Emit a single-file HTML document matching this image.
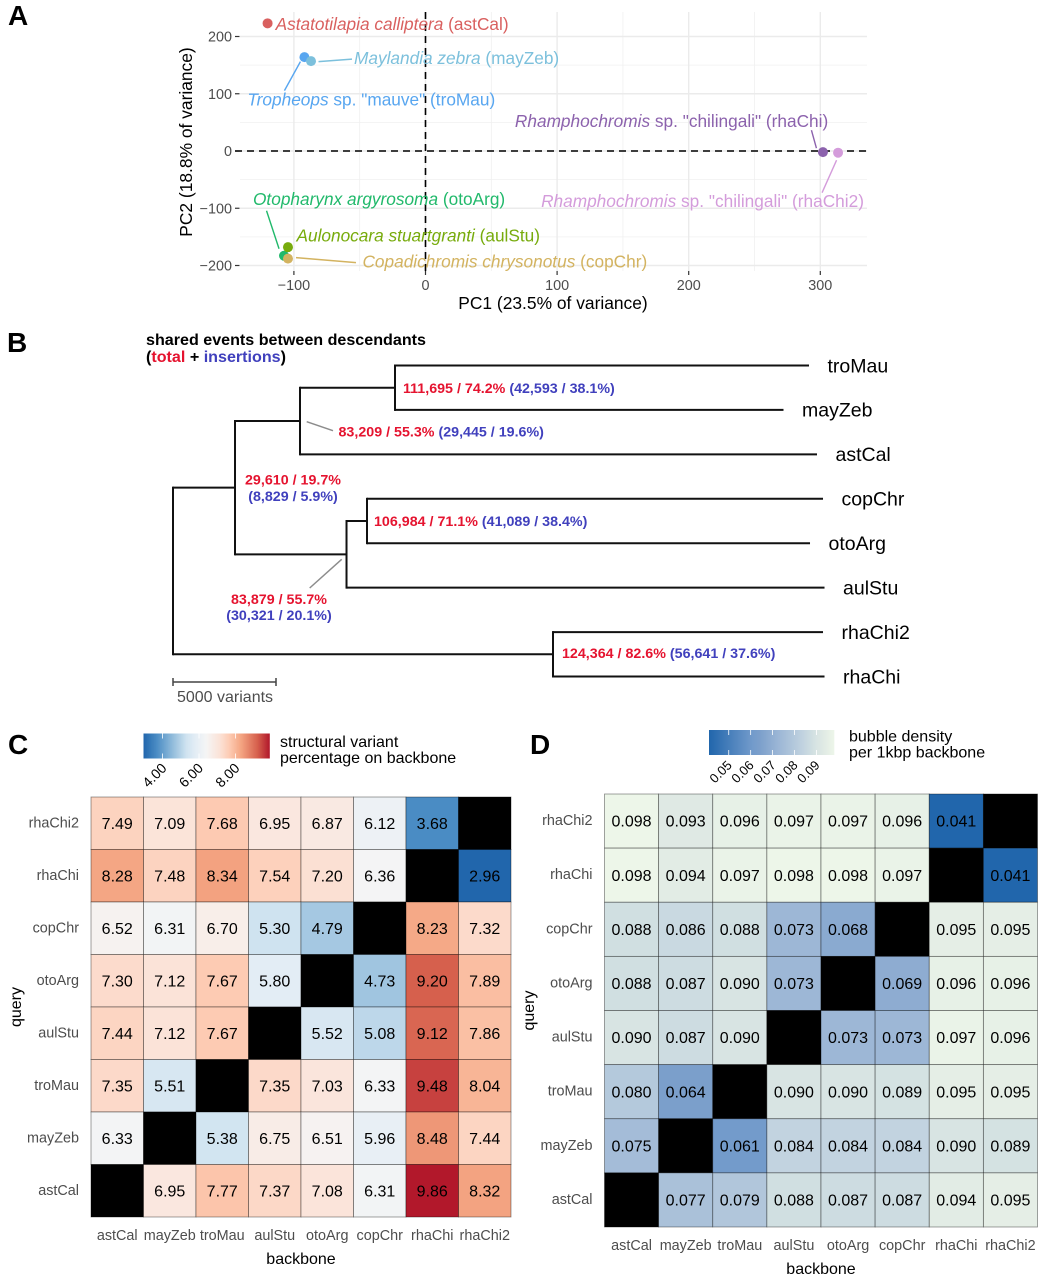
<!DOCTYPE html>
<html lang="en">
<head>
<meta charset="utf-8">
<title>Structural variant comparison across cichlid assemblies</title>
<style>
html,body{margin:0;padding:0;background:#fff;}
svg{display:block;font-family:"Liberation Sans",Arial,sans-serif;}
.letter{font-size:28px;font-weight:bold;fill:#000;}
.red{fill:#e5132f;}
.blue{fill:#4040bd;}
.ann{font-size:14.27px;font-weight:bold;}
</style>
</head>
<body>
<svg id="figure" xmlns="http://www.w3.org/2000/svg" width="1045" height="1280" viewBox="0 0 1045 1280">
  <rect x="0" y="0" width="1045" height="1280" fill="#fff"/>
  <text class="letter" x="8" y="25">A</text>
  <text class="letter" x="7" y="352">B</text>
  <text class="letter" x="8" y="754">C</text>
  <text class="letter" x="530" y="754">D</text>

  <g id="panelA"></g>

  <g id="panelB">
    <text x="146" y="345" font-size="16.1" font-weight="bold">shared events between descendants</text>
    <text x="146" y="362" font-size="16.1" font-weight="bold">(<tspan class="red">total</tspan> + <tspan class="blue">insertions</tspan>)</text>
    <line x1="306.7" y1="421.7" x2="333" y2="430.7" stroke="#8c8c8c" stroke-width="1.5"/>
    <line x1="341.7" y1="559.3" x2="309.7" y2="588" stroke="#8c8c8c" stroke-width="1.5"/>
    <text class="ann" x="403" y="393"><tspan class="red">111,695 / 74.2%</tspan> <tspan class="blue">(42,593 / 38.1%)</tspan></text>
    <text class="ann" x="338.5" y="436.5"><tspan class="red">83,209 / 55.3%</tspan> <tspan class="blue">(29,445 / 19.6%)</tspan></text>
    <text class="ann red" x="293" y="484.5" text-anchor="middle">29,610 / 19.7%</text>
    <text class="ann blue" x="293" y="501" text-anchor="middle">(8,829 / 5.9%)</text>
    <text class="ann" x="374" y="526"><tspan class="red">106,984 / 71.1%</tspan> <tspan class="blue">(41,089 / 38.4%)</tspan></text>
    <text class="ann red" x="279" y="604" text-anchor="middle">83,879 / 55.7%</text>
    <text class="ann blue" x="279" y="620" text-anchor="middle">(30,321 / 20.1%)</text>
    <text class="ann" x="562" y="658"><tspan class="red">124,364 / 82.6%</tspan> <tspan class="blue">(56,641 / 37.6%)</tspan></text>
  </g>

  <g id="panelC"></g>
  <g id="panelD"></g>
</svg>

<script>
/* ---------- Panel A data ---------- */
const speciesCodes = ['astCal','mayZeb','troMau','rhaChi','rhaChi2','otoArg','aulStu','copChr'];
const speciesItalic = ['Astatotilapia calliptera','Maylandia zebra','Tropheops','Rhamphochromis','Rhamphochromis','Otopharynx argyrosoma','Aulonocara stuartgranti','Copadichromis chrysonotus'];
const speciesPlain = [' (astCal)',' (mayZeb)',' sp. "mauve" (troMau)',' sp. "chilingali" (rhaChi)',' sp. "chilingali" (rhaChi2)',' (otoArg)',' (aulStu)',' (copChr)'];
const pc1Values = [-120, -87, -92, 302, 313.5, -107.5, -104.5, -104.5];
const pc2Values = [223, 157, 164, -2, -3, -183, -168, -188];
const pc1Ticks = [-100, 0, 100, 200, 300];
const pc2Ticks = [-200, -100, 0, 100, 200];
const pc1MinorGrid = [-50, 50, 150, 250];
const pc2MinorGrid = [-150, -50, 50, 150];

/* ---------- Panel B data: branch lengths in variants ---------- */
const treeNodes = ['root','n1','n2','n3','troMau','mayZeb','astCal','n4','n5','copChr','otoArg','aulStu','n6','rhaChi2','rhaChi'];
const treeParents = [null,'root','n1','n2','n3','n3','n2','n1','n4','n5','n5','n4','root','n6','n6'];
const treeBranchLengths = [0, 3010, 3155, 4612, 20097, 18859, 25097, 5413, 995, 22136, 21505, 23204, 18447, 13107, 13180];
const treeLeafOrder = ['troMau','mayZeb','astCal','copChr','otoArg','aulStu','rhaChi2','rhaChi'];
const scaleBarVariants = 5000;

/* ---------- Panels C and D data ---------- */
const backboneLabels = ['astCal','mayZeb','troMau','aulStu','otoArg','copChr','rhaChi','rhaChi2'];
const queryLabels = ['rhaChi2','rhaChi','copChr','otoArg','aulStu','troMau','mayZeb','astCal'];
const svPercentRhaChi2 = [7.49,7.09,7.68,6.95,6.87,6.12,3.68,null];
const svPercentRhaChi = [8.28,7.48,8.34,7.54,7.20,6.36,null,2.96];
const svPercentCopChr = [6.52,6.31,6.70,5.30,4.79,null,8.23,7.32];
const svPercentOtoArg = [7.30,7.12,7.67,5.80,null,4.73,9.20,7.89];
const svPercentAulStu = [7.44,7.12,7.67,null,5.52,5.08,9.12,7.86];
const svPercentTroMau = [7.35,5.51,null,7.35,7.03,6.33,9.48,8.04];
const svPercentMayZeb = [6.33,null,5.38,6.75,6.51,5.96,8.48,7.44];
const svPercentAstCal = [null,6.95,7.77,7.37,7.08,6.31,9.86,8.32];
const svTicks = [4, 6, 8];

const bubbleRhaChi2 = [0.098,0.093,0.096,0.097,0.097,0.096,0.041,null];
const bubbleRhaChi = [0.098,0.094,0.097,0.098,0.098,0.097,null,0.041];
const bubbleCopChr = [0.088,0.086,0.088,0.073,0.068,null,0.095,0.095];
const bubbleOtoArg = [0.088,0.087,0.090,0.073,null,0.069,0.096,0.096];
const bubbleAulStu = [0.090,0.087,0.090,null,0.073,0.073,0.097,0.096];
const bubbleTroMau = [0.080,0.064,null,0.090,0.090,0.089,0.095,0.095];
const bubbleMayZeb = [0.075,null,0.061,0.084,0.084,0.084,0.090,0.089];
const bubbleAstCal = [null,0.077,0.079,0.088,0.087,0.087,0.094,0.095];
const bubbleTicks = [0.05, 0.06, 0.07, 0.08, 0.09];

/* ---------- Helpers ---------- */
const NS = 'http://www.w3.org/2000/svg';
function make(tag, parent, props, txt) {
  const node = document.createElementNS(NS, tag);
  for (const k in props) node.setAttribute(k, props[k]);
  if (txt !== undefined) node.textContent = txt;
  parent.appendChild(node);
  return node;
}
function hexToRgb(h) { return [1,3,5].map(i => parseInt(h.substr(i,2),16)); }
function ramp(stops, cols) {
  return function (v) {
    if (v <= stops[0]) return cols[0];
    for (let i = 1; i < stops.length; i++) {
      if (v <= stops[i]) {
        const t = (v - stops[i-1]) / (stops[i] - stops[i-1]);
        const a = hexToRgb(cols[i-1]), b = hexToRgb(cols[i]);
        return 'rgb(' + a.map((c,j) => Math.round(c + (b[j]-c)*t)).join(',') + ')';
      }
    }
    return cols[cols.length-1];
  };
}

/* ---------- Panel A ---------- */
(function () {
  const g = document.getElementById('panelA');
  const px = v => 425.5 + 1.316 * v;
  const py = v => 151 - 0.5725 * v;
  const left = 240, right = 867, top = 12, bottom = 271;
  const colors = ['#d9605f','#7cc0dc','#58a6f0','#8c62ad','#d49cdb','#21b96b','#77ab0c','#d3b360'];
  const labelOffset = [[8,6.5],[43,3],[-57,48.5],[-308,-25],[-297,54.5],[-31,-51],[8.5,-5.5],[74.5,9]];
  const leaderOffset = [null,[7.5,0.5,41,-2],[-4,4.5,-20,33.5],[-11.5,-22,-6.5,-4],[-1.5,7.5,-16,40],[-17.5,-45,-5,-7],null,[8,-1,68,4]];

  pc1MinorGrid.forEach(v => {
    const l = make('line', g, {x1:px(v),x2:px(v),y1:top,y2:bottom,stroke:'#f0f0f0','stroke-width':0.8});
    
    
  });
  pc2MinorGrid.forEach(v => {
    const l = make('line', g, {x1:left,x2:right,y1:py(v),y2:py(v),stroke:'#f0f0f0','stroke-width':0.8});
    
    
  });
  pc1Ticks.forEach(v => {
    const l = make('line', g, {x1:px(v),x2:px(v),y1:top,y2:bottom,stroke:'#ebebeb','stroke-width':1.4});
    
    
    const t = make('line', g, {x1:px(v),x2:px(v),y1:271,y2:275,stroke:'#333','stroke-width':1.2});
    
    
    const s = make('text', g, {x:px(v),y:290,'text-anchor':'middle','font-size':14.4,fill:'#4d4d4d'}, String(v).replace('-','\u2212'));
    
    
  });
  pc2Ticks.forEach(v => {
    const l = make('line', g, {x1:left,x2:right,y1:py(v),y2:py(v),stroke:'#ebebeb','stroke-width':1.4});
    
    
    const t = make('line', g, {x1:235,x2:239.5,y1:py(v),y2:py(v),stroke:'#333','stroke-width':1.2});
    
    
    const s = make('text', g, {x:232,y:py(v)+5,'text-anchor':'end','font-size':14.4,fill:'#4d4d4d'}, String(v).replace('-','\u2212'));
    
    
  });

  const hz = make('line', g, {x1:235,x2:right,y1:py(0),y2:py(0),stroke:'#000','stroke-width':1.6,'stroke-dasharray':'7 5'});
  
  
  const vt = make('line', g, {x1:px(0),x2:px(0),y1:top,y2:275,stroke:'#000','stroke-width':1.6,'stroke-dasharray':'7 5'});
  
  

  speciesCodes.forEach((code, i) => {
    const cx = px(pc1Values[i]), cy = py(pc2Values[i]);
    const off = leaderOffset[i];
    if (off) {
      const lead = make('line', g, {x1:cx+off[0],y1:cy+off[1],x2:cx+off[2],y2:cy+off[3],stroke:colors[i],'stroke-width':1.4});
      
      
    }
    const lab = make('text', g, {x:cx+labelOffset[i][0],y:cy+labelOffset[i][1],'font-size':17.25,fill:colors[i]});
    
    
    make('tspan', lab, {'font-style':'italic'}, speciesItalic[i]);
    make('tspan', lab, {}, speciesPlain[i]);
  });
  [5, 2, 1, 3, 4, 6, 0, 7].forEach(i => {
    const dot = make('circle', g, {cx:px(pc1Values[i]),cy:py(pc2Values[i]),r:5,fill:colors[i]});
    
    
  });

  const xt = make('text', g, {x:553,y:309,'text-anchor':'middle','font-size':17.4}, 'PC1 (23.5% of variance)');
  
  
  const yt = make('text', g, {x:0,y:0,'text-anchor':'middle','font-size':17.4,transform:'translate(192,142) rotate(-90)'}, 'PC2 (18.8% of variance)');
  
  
})();

/* ---------- Panel B ---------- */
(function () {
  const g = document.getElementById('panelB');
  const tx = v => 173 + v * 0.0206;
  const ty = rank => 365.5 + rank * 44.43;
  const depth = {}, posY = {};
  treeNodes.forEach((n, i) => {
    const p = treeParents[i];
    depth[n] = (p ? depth[p] : 0) + treeBranchLengths[i];
  });
  function yOf(n) {
    if (posY[n] !== undefined) return posY[n];
    const leaf = treeLeafOrder.indexOf(n);
    if (leaf >= 0) return (posY[n] = ty(leaf));
    const kids = treeNodes.filter((m, i) => treeParents[i] === n).map(yOf);
    return (posY[n] = (Math.min(...kids) + Math.max(...kids)) / 2);
  }
  treeNodes.forEach(yOf);
  treeNodes.forEach((n, i) => {
    const p = treeParents[i];
    if (p) {
      const b = make('path', g, {d:'M' + tx(depth[p]) + ' ' + posY[n] + 'H' + tx(depth[n]),stroke:'#111','stroke-width':2,fill:'none'});
      
      
    }
    const kids = treeNodes.filter((m, j) => treeParents[j] === n).map(m => posY[m]);
    if (kids.length) {
      const c = make('path', g, {d:'M' + tx(depth[n]) + ' ' + (Math.min(...kids)-1) + 'V' + (Math.max(...kids)+1),stroke:'#111','stroke-width':2,fill:'none'});
      
      
    }
  });
  treeLeafOrder.forEach(n => {
    const s = make('text', g, {x:tx(depth[n])+18.5,y:posY[n]+6.8,'font-size':19.5,fill:'#000'}, n);
    
    
  });
  const x0 = tx(0), x1 = tx(scaleBarVariants);
  const bar = make('path', g, {d:'M'+x0+' 678V686M'+x0+' 682H'+x1+'M'+x1+' 678V686',stroke:'#444','stroke-width':1.5,fill:'none'});
  
  
  const lab = make('text', g, {x:225,y:702,'text-anchor':'middle','font-size':16,fill:'#4d4d4d'}, scaleBarVariants + ' variants');
  
  
})();

/* ---------- Heatmap drawing ---------- */
function drawHeatmap(cfg) {
  const g = document.getElementById(cfg.id);
  const cw = cfg.w / backboneLabels.length, ch = cfg.h / queryLabels.length;
  const hx = i => cfg.x + i * cw;
  const hy = j => cfg.y + j * ch;
  cfg.rows.forEach((row, j) => {
    row.forEach((v, i) => {
      const r = make('rect', g, {x:hx(i),y:hy(j),width:cw,height:ch,fill:v === null ? '#000' : cfg.color(v),stroke:'#000','stroke-opacity':0.45,'stroke-width':0.8});
      
      
    });
  });
  cfg.rows.forEach((row, j) => {
    row.forEach((v, i) => {
      if (v === null) return;
      const t = make('text', g, {x:hx(i)+cw/2,y:hy(j)+ch/2+5.6,'text-anchor':'middle','font-size':16,fill:'#000'}, v.toFixed(cfg.digits));
      
      
    });
  });
  queryLabels.forEach((q, j) => {
    const t = make('text', g, {x:cfg.x-12,y:hy(j)+ch/2+4,'text-anchor':'end','font-size':14.4,fill:'#4d4d4d'}, q);
    
    
  });
  backboneLabels.forEach((b, i) => {
    const t = make('text', g, {x:hx(i)+cw/2,y:cfg.xLabelY,'text-anchor':'middle','font-size':14.4,fill:'#4d4d4d'}, b);
    
    
  });
  const xt = make('text', g, {x:cfg.x+cfg.w/2,y:cfg.xTitleY,'text-anchor':'middle','font-size':16}, 'backbone');
  
  
  const yt = make('text', g, {x:0,y:0,'text-anchor':'middle','font-size':16,transform:'translate(' + cfg.yTitleX + ',' + (cfg.y+cfg.h/2) + ') rotate(-90)'}, 'query');
  
  

  /* colour bar */
  const L = cfg.legend;
  const lx = v => L.x + (v - L.min) * (L.w / (L.max - L.min));
  const grad = make('g', g, {});
  
  
  for (let k = 0; k < L.w; k++) {
    const v = L.min + (k + 0.5) / L.w * (L.max - L.min);
    make('rect', grad, {x:L.x+k,y:L.y,width:1.3,height:L.h,fill:cfg.color(v)});
  }
  L.ticks.forEach(v => {
    const a = make('path', g, {d:'M'+lx(v)+' '+L.y+'v5M'+lx(v)+' '+(L.y+L.h)+'v-5',stroke:'#fff','stroke-width':0.8,fill:'none'});
    
    
    const t = make('text', g, {x:0,y:0,'text-anchor':'end','font-size':L.font,fill:'#000',transform:'translate(' + (lx(v)+L.tdx) + ',' + (L.y+L.h+L.tdy) + ') rotate(-45)'}, v.toFixed(2));
    
    
  });
  L.title.forEach((s, n) => {
    const t = make('text', g, {x:L.titleX,y:L.titleY+n*16,'font-size':16,fill:'#000'}, s);
    
    
  });
}

drawHeatmap({
  id:'panelC', prefix:'sv-percent', x:91, y:797, w:420, h:420, digits:2,
  rows:[svPercentRhaChi2,svPercentRhaChi,svPercentCopChr,svPercentOtoArg,svPercentAulStu,svPercentTroMau,svPercentMayZeb,svPercentAstCal],
  color:ramp([2.96,3.68,4.73,5.3,5.8,6.4,7.12,7.67,8.3,9.2,9.86],['#2166ac','#4a8cc4','#a0c5e0','#cfe3f0','#e3edf5','#f5f5f5','#fbe3d8','#fdcbb3','#f4a582','#d6604d','#b2182b']),
  xLabelY:1240, xTitleY:1264, yTitleX:21,
  legend:{x:143.5,y:733.5,w:126,h:25,min:2.96,max:9.86,ticks:svTicks,font:14,tdx:5,tdy:10.5,title:['structural variant','percentage on backbone'],titleX:280,titleY:747}
});
drawHeatmap({
  id:'panelD', prefix:'bubble-density', x:604.5, y:794, w:433, h:433, digits:3,
  rows:[bubbleRhaChi2,bubbleRhaChi,bubbleCopChr,bubbleOtoArg,bubbleAulStu,bubbleTroMau,bubbleMayZeb,bubbleAstCal],
  color:ramp([0.041,0.061,0.064,0.073,0.080,0.084,0.088,0.090,0.093,0.098],['#2166ac','#739bcb','#7b9fcb','#9db7d6','#b4c9dc','#c2d3e0','#d0dfe1','#d8e4e3','#dfe9e4','#edf6e9']),
  xLabelY:1250, xTitleY:1274, yTitleX:534,
  legend:{x:709,y:730,w:125,h:25,min:0.041,max:0.098,ticks:bubbleTicks,font:13,tdx:4,tdy:11,title:['bubble density','per 1kbp backbone'],titleX:849,titleY:741.5}
});
</script>
</body>
</html>
